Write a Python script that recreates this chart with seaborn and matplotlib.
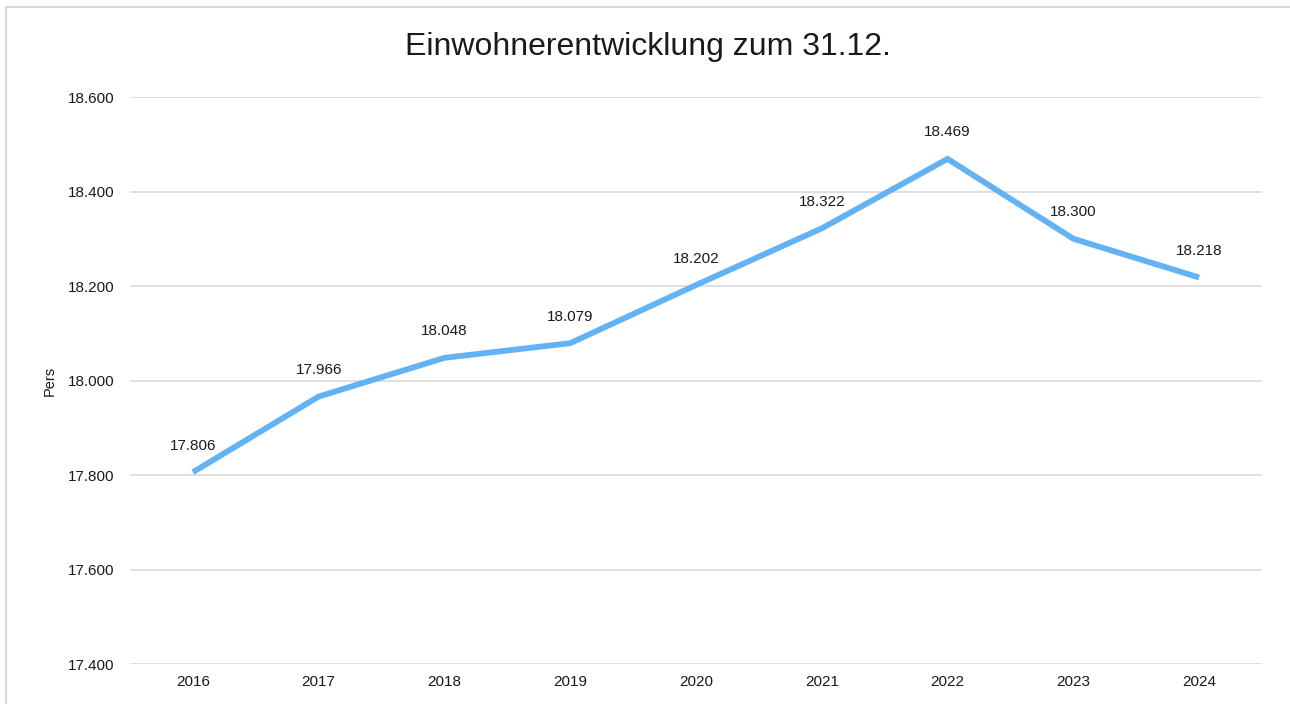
import matplotlib
matplotlib.use("Agg")
import matplotlib.pyplot as plt
import seaborn as sns
import pandas as pd
from matplotlib.patches import Rectangle
from matplotlib.ticker import FuncFormatter

years = ["2016", "2017", "2018", "2019", "2020", "2021", "2022", "2023", "2024"]
values = [17806, 17966, 18048, 18079, 18202, 18322, 18469, 18300, 18218]
y_ticks = [17400, 17600, 17800, 18000, 18200, 18400, 18600]

sns.set_theme(style="white")
plt.rcParams['font.family'] = ['Liberation Sans', 'DejaVu Sans']

df = pd.DataFrame({"Jahr": years, "Pers": values})

fig = plt.figure(figsize=(12.9, 7.04), dpi=100)
ax = fig.add_axes([130/1290, 1-664/704, (1262-130)/1290, (664-97)/704])

for t in y_ticks:
    ax.axhline(t, color="#d9d9d9", lw=1.2, zorder=0)

sns.lineplot(data=df, x="Jahr", y="Pers", ax=ax, color="#63b3f4", lw=4.2,
             sort=False, solid_joinstyle="miter", solid_capstyle="butt")

def de(v):
    return f"{v:,.0f}".replace(",", ".")

for i, v in enumerate(values):
    ax.annotate(de(v), (i, v), xytext=(0, 14), textcoords="offset points",
                ha="center", va="bottom", fontsize=11, color="#1a1a1a")

ax.set_xlim(-0.5, len(years) - 0.5)
ax.set_ylim(17400, 18600)
ax.set_yticks(y_ticks)
ax.yaxis.set_major_formatter(FuncFormatter(lambda v, p: de(v)))
ax.tick_params(axis="both", length=0, labelsize=11, labelcolor="#1a1a1a", pad=8)
ax.tick_params(axis="y", pad=11)
for s in ax.spines.values():
    s.set_visible(False)
ax.set_xlabel("")
ax.set_ylabel("Pers", fontsize=10.5, color="#1a1a1a", labelpad=8)

fig.text(648/1290, 1-47/704, "Einwohnerentwicklung zum 31.12.", ha="center", va="center",
         fontsize=23, color="#1a1a1a")

fig.patches.append(Rectangle((6/1290, -0.1), 1.2, 1.1 - 7/704 + 0.0,
                             transform=fig.transFigure, fill=False,
                             edgecolor="#d9d9d9", lw=1.5, figure=fig))

fig.savefig("out.png", dpi=100)
